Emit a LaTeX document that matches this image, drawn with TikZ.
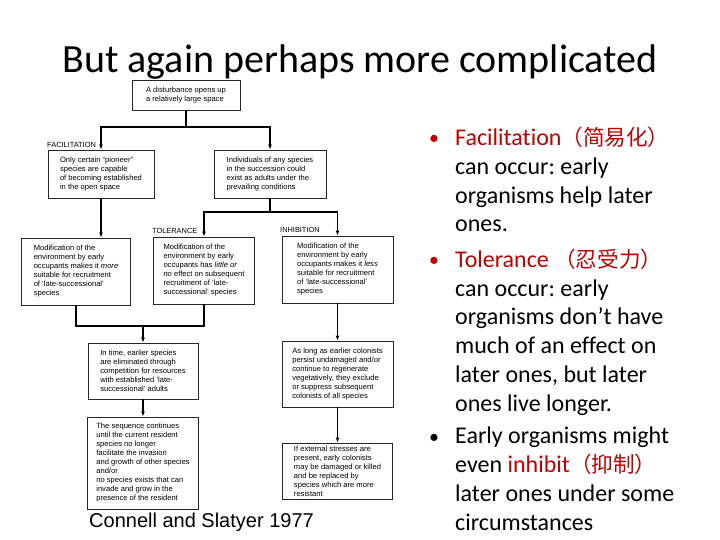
\documentclass[tikz,border=0pt]{standalone}
\usepackage{fontspec}
\setmainfont{Carlito}[Ligatures={NoCommon}]
\newfontfamily\arialf{Liberation Sans}
\newfontfamily\cjk{Noto Sans CJK SC}
\usetikzlibrary{arrows.meta}
\definecolor{hred}{RGB}{192,0,0}
\frenchspacing
\begin{document}
\begin{tikzpicture}[x=1pt,y=-1pt,
  box/.style={draw=black!85, line width=0.8pt, align=left, inner sep=0pt, font=\arialf\fontsize{7.6}{9}\selectfont},
  lab/.style={font=\arialf\fontsize{7.4}{9}\selectfont, anchor=base west, inner sep=0pt},
  conn/.style={draw=black, line width=1.2pt},
  arr/.style={conn, -{Latex[length=5pt,width=4pt]}},
  para/.style={font=\fontsize{24}{28.7}\selectfont, align=left, anchor=base west, inner sep=0pt},
  bul/.style={font=\fontsize{20}{28.7}\selectfont, anchor=base west, inner sep=0pt}
]
\useasboundingbox[fill=white] (0,0) rectangle (720,540);

% title
\node[font=\fontsize{40}{48}\selectfont, anchor=base, inner sep=0pt] (title) at (360,73) {But again perhaps more complicated};

% boxes
\node[box, minimum width=108pt, minimum height=30pt] (top) at (186,95) {A disturbance opens up\\a relatively large space};
\node[box, minimum width=106pt, minimum height=48pt] (F1) at (101,174) {Only certain “pioneer”\\species are capable\\of becoming established\\in the open space};
\node[box, minimum width=112pt, minimum height=48pt] (I1) at (270,174) {Individuals of any species\\in the succession could\\exist as adults under the\\prevailing conditions};
\node[box, minimum width=109pt, minimum height=67pt] (F2) at (76,271.5) {Modification of the\\environment by early\\occupants makes it \textit{more}\\suitable for recruitment\\of ‘late-successional’\\species};
\node[box, minimum width=101pt, minimum height=67pt] (T1) at (204,270.5) {Modification of the\\environment by early\\occupants has \textit{little or}\\\textit{no} effect on subsequent\\recruitment of ‘late-\\successional’ species};
\node[box, minimum width=111pt, minimum height=67pt] (I2) at (337.5,269.5) {Modification of the\\environment by early\\occupants makes it \textit{less}\\suitable for recruitment\\of ‘late-successional’\\species};
\node[box, minimum width=110pt, minimum height=56pt] (F3) at (143,371) {In time, earlier species\\are eliminated through\\competition for resources\\with established ‘late-\\successional’ adults};
\node[box, minimum width=111pt, minimum height=92pt] (F4) at (143,463) {The sequence continues\\until the current resident\\species no longer\\facilitate the invasion\\and growth of other species\\and/or\\no species exists that can\\invade and grow in the\\presence of the resident};
\node[box, minimum width=111pt, minimum height=66pt] (I3) at (337.5,374) {As long as earlier colonists\\persist undamaged and/or\\continue to regenerate\\vegetatively, they exclude\\or suppress subsequent\\colonists of all species};
\node[box, minimum width=110pt, minimum height=56pt] (I4) at (337.5,471) {If external stresses are\\present, early colonists\\may be damaged or killed\\and be replaced by\\species which are more\\resistant};

% labels
\node[lab] (facl) at (47,147.5) {FACILITATION};
\node[lab] (toll) at (152,233.5) {TOLERANCE};
\node[lab] (inhl) at (280,232.5) {INHIBITION};

% connectors
\coordinate (j1) at (186,127);
\draw[conn] (top.south) -- (j1);
\draw[arr] (j1) -| (F1.north);
\draw[arr] (j1) -| (I1.north);
\draw[arr] (F1.south) -- (F1.south |- F2.north);
\coordinate (j2) at (270,212);
\draw[conn] (I1.south) -- (j2);
\draw[arr] (j2) -| (T1.north);
\draw[arr] (j2) -| (I2.north);
\coordinate (j3) at (143,326);
\draw[conn] (F2.south) |- (j3);
\draw[conn] (T1.south) |- (j3);
\draw[arr] (j3) -- (F3.north);
\draw[arr] (F3.south) -- (F3.south |- F4.north);
\draw[arr] (I2.south) -- (I2.south |- I3.north);
\draw[arr] (I3.south) -- (I3.south |- I4.north);

% citation
\node[font=\arialf\fontsize{20}{24}\selectfont, anchor=base west, inner sep=0pt] (cite) at (89,527) {Connell and Slatyer 1977};

% bullets (paragraph nodes anchored at the baseline of their last line)
\node[bul, text=hred] (d1) at (429,145) {•};
\node[para] (p1) at (455,232) {{\color{hred}Facilitation{\cjk\fontsize{21.6}{28.7}\selectfont （简易化）}}\\can occur: early\\organisms help later\\ones.};
\node[bul, text=hred] (d2) at (429,266.5) {•};
\node[para] (p2) at (455,411) {{\color{hred}Tolerance {\cjk\fontsize{21.6}{28.7}\selectfont （忍受力）}}\\can occur: early\\organisms don’t have\\much of an effect on\\later ones, but later\\ones live longer.};
\node[bul] (d3) at (429,443) {•};
\node[para] (p3) at (455,530) {Early organisms might\\even {\color{hred}inhibit{\cjk\fontsize{21.6}{28.7}\selectfont （抑制）}}\\later ones under some\\circumstances};
\end{tikzpicture}
\end{document}
